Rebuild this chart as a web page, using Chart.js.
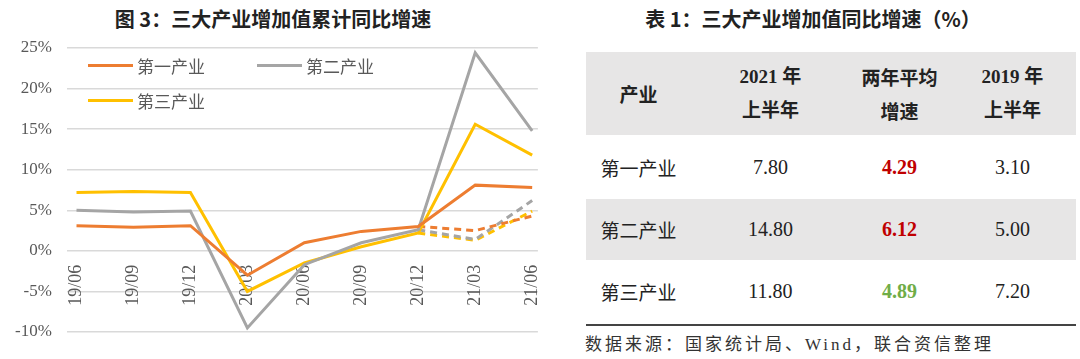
<!DOCTYPE html>
<html>
<head>
<meta charset="utf-8">
<script src="https://cdn.jsdelivr.net/npm/chart.js@4"></script>
<style>
  body { margin: 0; width: 1080px; height: 359px; background: #fff; position: relative; overflow: hidden;
         font-family: 'Liberation Serif', 'Noto Sans CJK SC', serif; }
  #chartBox { position: absolute; left: 0; top: 0; width: 560px; height: 359px; }
  .title { position: absolute; top: 4px; font-family: 'Noto Sans CJK SC', sans-serif; font-weight: bold;
           font-size: 20px; color: #222; white-space: nowrap; transform: translateX(-50%); }
  #legend .item { position: absolute; display: flex; align-items: center; font-family: 'Noto Sans CJK SC', sans-serif;
                  font-size: 17px; color: #595959; }
  #legend .swatch { width: 45px; height: 3px; margin-right: 4px; }
  #tbl { position: absolute; left: 586px; top: 52px; width: 490px; border-collapse: collapse; table-layout: fixed; }
  #tbl td { text-align: center; padding: 0; font-size: 20px; color: #222; }
  #tbl tr.head td { background: #e7e6e6; font-weight: bold; line-height: 34px; height: 83px; font-size: 19px; }
  #tbl tr.grey td { background: #e7e6e6; }
  #tbl td.name { font-family: 'Noto Sans CJK SC', sans-serif; font-size: 19px; }
  #rule { position: absolute; left: 586px; top: 324px; width: 490px; height: 2px; background: #444; }
  #source { position: absolute; left: 585px; top: 330px; font-size: 17px; letter-spacing: 3px; color: #333;
            white-space: nowrap; }
</style>
</head>
<body>
<div class="title" style="left:273px">图 3：三大产业增加值累计同比增速</div>
<div class="title" style="left:813px">表 1：三大产业增加值同比增速（%）</div>
<div id="chartBox"><canvas id="growthChart"></canvas></div>
<div id="legend"></div>
<table id="tbl"></table>
<div id="rule"></div>
<div id="source">数据来源：国家统计局、Wind，联合资信整理</div>
<script>
// chart data (cumulative YoY growth, %)
const periods = ['19/06', '19/09', '19/12', '20/03', '20/06', '20/09', '20/12', '21/03', '21/06'];
const primary = [3.1, 2.9, 3.1, -3.0, 1.0, 2.4, 3.0, 8.1, 7.8];
const secondary = [5.0, 4.8, 4.9, -9.5, -1.7, 1.0, 2.6, 24.4, 14.8];
const tertiary = [7.2, 7.3, 7.2, -5.0, -1.5, 0.5, 2.2, 15.6, 11.8];
// two-year average growth (dashed)
const primaryAvg = [null, null, null, null, null, null, 3.0, 2.5, 4.3];
const secondaryAvg = [null, null, null, null, null, null, 2.6, 1.4, 6.2];
const tertiaryAvg = [null, null, null, null, null, null, 2.2, 1.3, 4.9];
const seriesNames = ['第一产业', '第二产业', '第三产业'];
const yTicks = [-10, -5, 0, 5, 10, 15, 20, 25];

// table data
const tableHead = ['产业', '2021 年<br>上半年', '两年平均<br>增速', '2019 年<br>上半年'];
const tableNames = ['第一产业', '第二产业', '第三产业'];
const h1of2021 = ['7.80', '14.80', '11.80'];
const twoYearAvg = ['4.29', '6.12', '4.89'];
const h1of2019 = ['3.10', '5.00', '7.20'];
const avgColors = ['#c00000', '#c00000', '#70ad47'];

const colors = ['#ed7d31', '#a5a5a5', '#ffc000'];

const toPoints = arr => arr.map((v, i) => ({ x: i, y: v }));

const solid = [primary, secondary, tertiary];
const dashed = [primaryAvg, secondaryAvg, tertiaryAvg];
const datasets = [];
solid.forEach((s, i) => datasets.push({
    label: seriesNames[i], data: toPoints(s), borderColor: colors[i],
    borderWidth: 3, pointRadius: 0, tension: 0
}));
dashed.forEach((s, i) => datasets.push({
    label: seriesNames[i] + '两年平均', data: toPoints(s), borderColor: colors[i],
    borderWidth: 3, borderDash: [7, 5], pointRadius: 0, tension: 0, spanGaps: false
}));

new Chart(document.getElementById('growthChart'), {
    type: 'line',
    data: { datasets },
    options: {
        responsive: true,
        maintainAspectRatio: false,
        animation: false,
        layout: { padding: { left: 0, right: 18, top: 48, bottom: 27 } },
        plugins: { legend: { display: false }, tooltip: { enabled: false } },
        scales: {
            x: {
                type: 'linear',
                position: { y: 0 },
                min: -0.17,
                max: 8.1,
                grid: { display: false },
                border: { display: false },
                afterBuildTicks: scale => { scale.ticks = periods.map((p, i) => ({ value: i })); },
                ticks: {
                    autoSkip: false, minRotation: 90, maxRotation: 90, padding: 6,
                    color: '#595959', font: { family: 'Liberation Serif', size: 18 },
                    callback: v => periods[v]
                }
            },
            y: {
                min: -10,
                max: 25,
                afterBuildTicks: scale => { scale.ticks = yTicks.map(v => ({ value: v })); },
                grid: { color: '#d9d9d9', lineWidth: 1.5, drawTicks: false },
                border: { display: false },
                ticks: {
                    padding: 15, color: '#595959', font: { family: 'Liberation Serif', size: 17 },
                    callback: v => v + '%'
                }
            }
        }
    }
});

// legend inside the plot
const legendPos = [[88, 53], [257, 53], [88, 88]];
const legend = document.getElementById('legend');
seriesNames.forEach((name, i) => {
    const el = document.createElement('div');
    el.className = 'item';
    el.style.left = legendPos[i][0] + 'px';
    el.style.top = legendPos[i][1] + 'px';
    el.innerHTML = '<span class="swatch" style="background:' + colors[i] + '"></span>' + name;
    legend.appendChild(el);
});

// table
const widths = [105, 159, 99, 127];
let html = '<colgroup>' + widths.map(w => '<col style="width:' + w + 'px">').join('') + '</colgroup>';
html += '<tr class="head">' + tableHead.map((h, i) =>
    '<td' + (i === 0 || i === 2 ? ' style="font-family:\'Noto Sans CJK SC\'"' : '') + '>' + h + '</td>').join('') + '</tr>';
const rowHeights = [64, 61, 63];
tableNames.forEach((n, i) => {
    html += '<tr class="' + (i === 1 ? 'grey' : '') + '" style="height:' + rowHeights[i] + 'px">' +
        '<td class="name">' + n + '</td>' +
        '<td>' + h1of2021[i] + '</td>' +
        '<td style="font-weight:bold;color:' + avgColors[i] + '">' + twoYearAvg[i] + '</td>' +
        '<td>' + h1of2019[i] + '</td></tr>';
});
document.getElementById('tbl').innerHTML = html;
</script>
</body>
</html>
